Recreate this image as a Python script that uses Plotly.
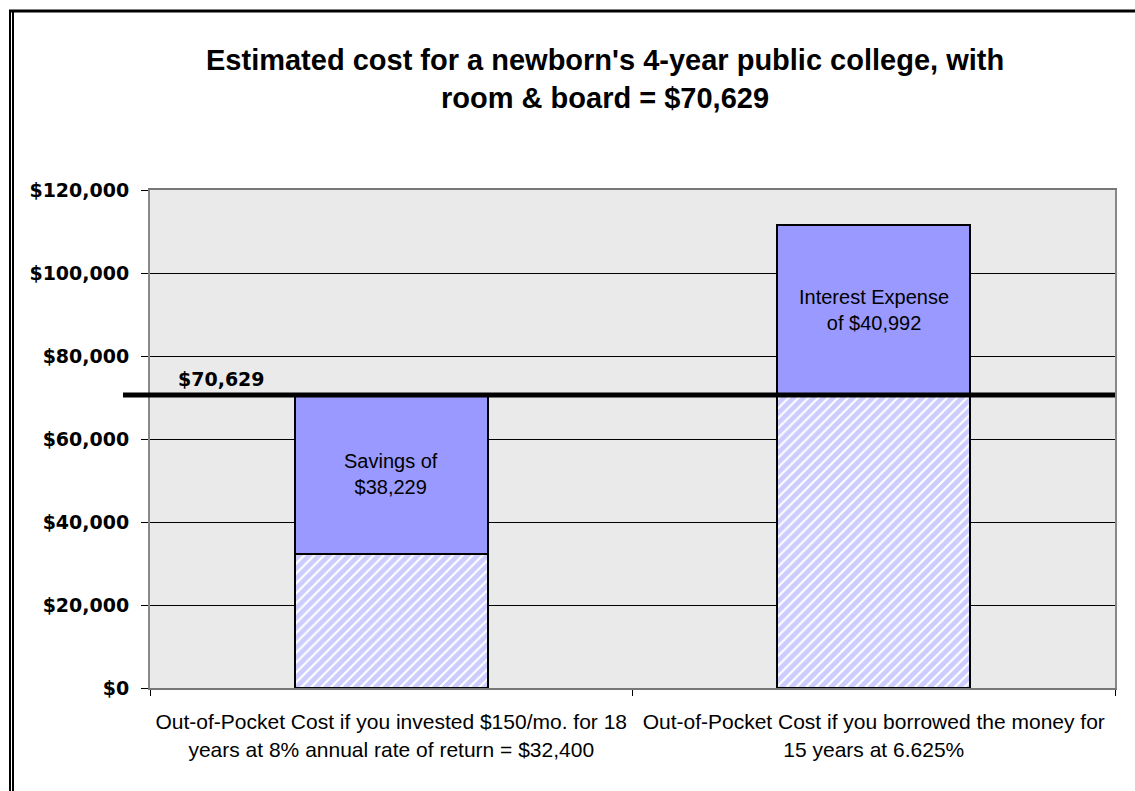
import plotly.graph_objects as go

# Data
categories = [
    "Out-of-Pocket Cost if you invested $150/mo. for 18<br>years at 8% annual rate of return = $32,400",
    "Out-of-Pocket Cost if you borrowed the money for<br>15 years at 6.625%",
]
out_of_pocket = [32400, 70629]
difference = [38229, 40992]
difference_labels = ["Savings of<br>$38,229", "Interest Expense<br>of $40,992"]
target_cost = 70629
y_ticks = [0, 20000, 40000, 60000, 80000, 100000, 120000]

W, H = 1135, 791
ML, MR, MT, MB = 150, 20, 190, 103
plot_w = W - ML - MR
plot_h = H - MT - MB


def px_x(x):
    return (x - ML) / plot_w


def px_y(y):
    return (H - MB - y) / plot_h


FONT = "Liberation Sans, Arial, sans-serif"
WIDE_FONT = "DejaVu Sans, Verdana, sans-serif"
BLUE = "#9999FF"

fig = go.Figure()
fig.add_trace(go.Bar(
    x=categories, y=out_of_pocket, width=0.4,
    marker=dict(color="white",
                pattern=dict(shape="/", fgcolor=BLUE, bgcolor="white", size=7, solidity=0.7),
                line=dict(color="black", width=2)),
    showlegend=False, hoverinfo="skip",
))
fig.add_trace(go.Bar(
    x=categories, y=difference, width=0.4,
    marker=dict(color=BLUE, line=dict(color="black", width=2)),
    showlegend=False, hoverinfo="skip",
))

# text inside the upper segments
for cat, base, d, txt in zip(categories, out_of_pocket, difference, difference_labels):
    fig.add_annotation(x=cat, y=base + d / 2, text=txt, showarrow=False,
                       font=dict(family=FONT, size=20, color="black"))

# reference line for total cost
fig.add_shape(type="line", xref="paper", yref="y", x0=px_x(123), x1=1,
              y0=target_cost, y1=target_cost, line=dict(color="black", width=5), layer="above")
fig.add_annotation(xref="paper", yref="y", x=px_x(176), y=target_cost, xanchor="left",
                   yanchor="bottom", yshift=3, text=f"<b>${target_cost:,}</b>", showarrow=False,
                   font=dict(family=WIDE_FONT, size=19, color="black"))

# title
fig.add_annotation(xref="paper", yref="paper", x=px_x(605), y=px_y(42), yanchor="top",
                   text="<b>Estimated cost for a newborn's 4-year public college, with<br>room & board = $70,629</b>",
                   showarrow=False, font=dict(family=FONT, size=29, color="black"))

# outer frame: double line on the left, heavy line on top
for xp in (10, 13):
    fig.add_shape(type="line", xref="paper", yref="paper", x0=px_x(xp), x1=px_x(xp),
                  y0=px_y(10), y1=px_y(H + 5), line=dict(color="black", width=2))
fig.add_shape(type="line", xref="paper", yref="paper", x0=px_x(9), x1=px_x(W + 5),
              y0=px_y(11), y1=px_y(11), line=dict(color="black", width=3))

fig.update_layout(
    width=W, height=H,
    margin=dict(l=ML, r=MR, t=MT, b=MB),
    barmode="stack",
    paper_bgcolor="white",
    plot_bgcolor="#EAEAEA",
    font=dict(family=FONT, color="black"),
    xaxis=dict(
        tickson="boundaries", ticks="outside", ticklen=6, tickcolor="black",
        showline=True, linecolor="#777777", linewidth=2, mirror=True,
        showgrid=False, tickfont=dict(family=FONT, size=21, color="black"),
        ticklabelstandoff=14,
        range=[-0.5, 1.5],
    ),
    yaxis=dict(
        range=[0, 120000], tickvals=y_ticks,
        ticktext=[f"<b>${v:,}</b>" for v in y_ticks],
        ticks="outside", ticklen=7, tickcolor="black",
        showline=True, linecolor="#888888", linewidth=2, mirror=True,
        showgrid=True, gridcolor="black", gridwidth=1, zeroline=False,
        tickfont=dict(family=WIDE_FONT, size=19, color="black"),
        ticklabelstandoff=8,
    ),
)

fig.write_html("out.html")
